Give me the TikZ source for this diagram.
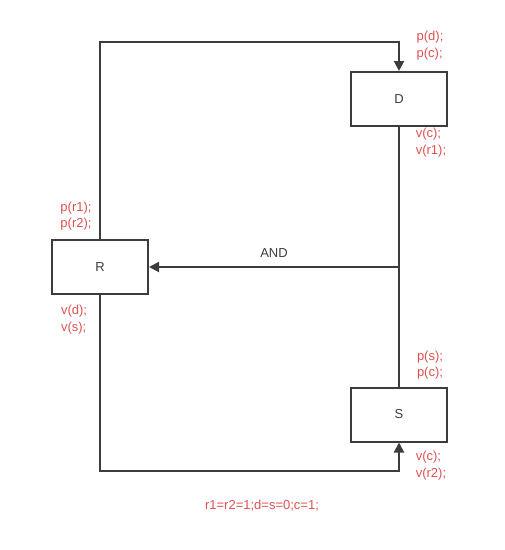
\documentclass[tikz,border=0pt]{standalone}
\usepackage{fontspec}
\setmainfont{Liberation Sans}
\usetikzlibrary{arrows.meta}
\definecolor{lbl}{RGB}{222,80,80}
\definecolor{ln}{RGB}{60,60,60}
\tikzset{
  procbox/.style={draw=ln, line width=2pt, minimum width=96pt, minimum height=54pt, inner sep=0pt, font=\fontsize{13}{15}\selectfont, text=ln},
  conn/.style={draw=ln, line width=2pt},
  arr/.style={conn, -{Triangle[length=10pt,width=10pt]}},
  lab/.style={text=lbl, font=\fontsize{13}{16.5}\selectfont, align=left, inner sep=0pt},
}
\begin{document}
\begin{tikzpicture}[x=1pt,y=-1pt]
\useasboundingbox (0,0) rectangle (505,550);
\node[procbox] (D) at (399,99) {D};
\node[procbox] (R) at (100,267) {R};
\node[procbox] (S) at (399,414.5) {S};
\coordinate (tl) at (100,42);
\coordinate (tr) at (399,42);
\coordinate (bl) at (100,471);
\coordinate (br) at (399,471);
\coordinate (j) at (399,267);
\draw[arr] (R.north) -- (tl) -- (tr) -- (D.north);
\draw[conn] (D.south) -- (S.north);
\draw[arr] (j) -- node[above=5pt, text=ln, font=\fontsize{13}{15}\selectfont] (andl) {AND} (R.east);
\draw[arr] (R.south) -- (bl) -- (br) -- (S.south);
\node[lab] (l1) at (430,45.5) {p(d);\\p(c);};
\node[lab] (l2) at (431,142.5) {v(c);\\v(r1);};
\node[lab] (l3) at (76,216) {p(r1);\\p(r2);};
\node[lab] (l4) at (74,319.5) {v(d);\\v(s);};
\node[lab] (l5) at (430,365) {p(s);\\p(c);};
\node[lab] (l6) at (431,465.5) {v(c);\\v(r2);};
\node[lab] (l7) at (262,506) {r1=r2=1;d=s=0;c=1;};
\end{tikzpicture}
\end{document}
